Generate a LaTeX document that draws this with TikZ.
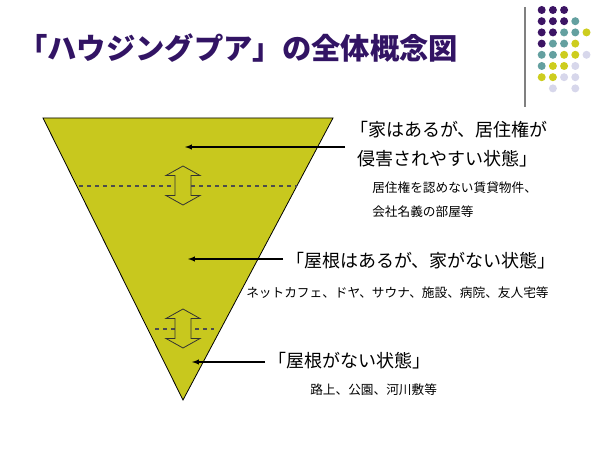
\documentclass[tikz,border=0pt]{standalone}
\usepackage{fontspec}
\newfontfamily\cjk{Noto Sans CJK JP}
\definecolor{titleblue}{RGB}{50,20,100}
\definecolor{dotpurple}{RGB}{60,20,100}
\definecolor{dotteal}{RGB}{100,160,160}
\definecolor{dotolive}{RGB}{205,205,30}
\definecolor{dotlilac}{RGB}{215,215,235}
\definecolor{conefill}{RGB}{200,200,30}
\tikzset{
  bigtext/.style={anchor=west, inner sep=0pt, font=\cjk\fontsize{13.5}{16}\selectfont},
  smalltext/.style={anchor=west, inner sep=0pt, font=\cjk\fontsize{9.5}{12}\selectfont},
  pointer/.style={thick, -latex},
  levelline/.style={dashed, thick, black!70},
}
\newcommand{\dbarrow}[2]{%
  \draw[black!80, fill=conefill, line width=0.6pt]
    (#1-8,#2-10) -- (#1-17,#2-10) -- (#1,#2-19.5) -- (#1+17,#2-10) -- (#1+8,#2-10)
    -- (#1+8,#2+10) -- (#1+17,#2+10) -- (#1,#2+19.5) -- (#1-17,#2+10) -- (#1-8,#2+10) -- cycle;}
\begin{document}
\begin{tikzpicture}[x=0.75pt,y=-0.75pt]
  \useasboundingbox (0,0) rectangle (600,449);

  % Title
  \node[anchor=west, inner sep=0pt, text=titleblue, font=\cjk\bfseries\fontsize{22}{26}\selectfont] (title) at (18,48) {「ハウジングプア」の全体概念図};

  % Corner decoration
  \draw[gray, line width=1pt] (525,7) -- (525,107);
  \foreach \row/\cols in {0/{P,P,P,N,N}, 1/{P,P,P,T,N}, 2/{P,P,T,T,Y}, 3/{P,T,T,Y,N},
                          4/{T,T,Y,Y,L}, 5/{T,Y,Y,L,N}, 6/{Y,Y,L,L,N}, 7/{N,L,N,L,N}} {
    \foreach \c [count=\i from 0] in \cols {
      \if\c P \fill[dotpurple] (541.7+\i*11.2,10+\row*11.2) circle (4);\fi
      \if\c T \fill[dotteal] (541.7+\i*11.2,10+\row*11.2) circle (4);\fi
      \if\c Y \fill[dotolive] (541.7+\i*11.2,10+\row*11.2) circle (4);\fi
      \if\c L \fill[dotlilac] (541.7+\i*11.2,10+\row*11.2) circle (4);\fi
    }
  }

  % Cone
  \draw[fill=conefill, line width=0.6pt] (43,118) -- (333,118) -- (183,400) -- cycle;
  \draw[levelline] (79,186) -- (297,186);
  \draw[levelline] (155,329) -- (214,329);
  \dbarrow{183}{185.5}
  \dbarrow{183}{328.5}

  % Labels
  \node[bigtext] (lvl1a) at (350,130) {「家はあるが、居住権が};
  \node[bigtext] (lvl1b) at (357,159) {侵害されやすい状態」};
  \node[smalltext] (lvl1c) at (372,188) {居住権を認めない賃貸物件、};
  \node[smalltext] (lvl1d) at (372,212) {会社名義の部屋等};
  \node[bigtext] (lvl2a) at (286,261) {「屋根はあるが、家がない状態」};
  \node[smalltext] (lvl2b) at (246,293) {ネットカフェ、ドヤ、サウナ、施設、病院、友人宅等};
  \node[bigtext] (lvl3a) at (268,361) {「屋根がない状態」};
  \node[smalltext] (lvl3b) at (310,390) {路上、公園、河川敷等};

  \coordinate (p1) at (185,147);
  \coordinate (p2) at (188,259);
  \coordinate (p3) at (192,362);
  \draw[pointer] (345,147) -- (p1);
  \draw[pointer] (lvl2a.west) ++(-3,-2) -- (p2);
  \draw[pointer] (lvl3a.west) ++(-3,1) -- (p3);
\end{tikzpicture}
\end{document}
